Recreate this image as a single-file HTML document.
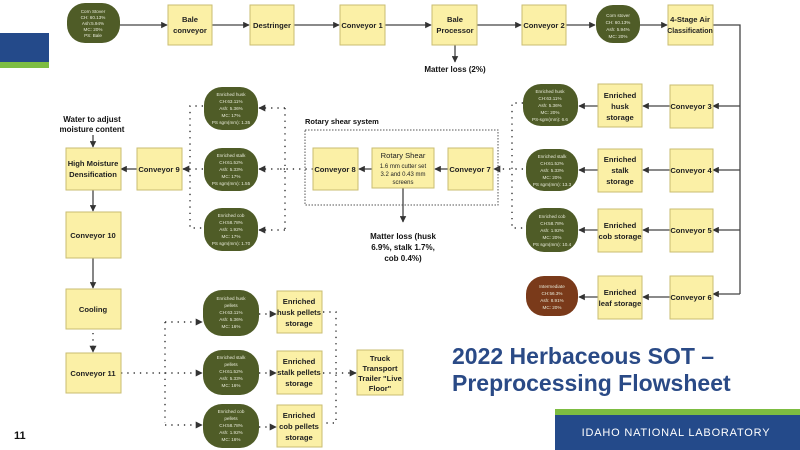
<!DOCTYPE html>
<html><head><meta charset="utf-8"><style>
html,body{margin:0;padding:0;background:#fff;}
svg{display:block;font-family:"Liberation Sans",sans-serif;}
.b{fill:#fbf0a6;stroke:#c9bd72;stroke-width:1;}
.bt{font-size:7.6px;fill:#222;text-anchor:middle;font-weight:bold;}
.o{fill:#4f5c27;}
.ot{font-size:4.6px;fill:#e8ead8;text-anchor:middle;}
.l{stroke:#444;stroke-width:1.3;fill:none;}
.d{stroke:#333;stroke-width:1.4;fill:none;stroke-dasharray:1.3 5;}
.lab{font-size:8px;font-weight:bold;fill:#111;text-anchor:middle;}
</style></head><body>
<svg width="800" height="450" viewBox="0 0 800 450">
<defs><marker id="a" viewBox="0 0 10 10" refX="9" refY="5" markerWidth="5" markerHeight="5" orient="auto"><path d="M0,0L10,5L0,10z" fill="#333"/></marker></defs>
<rect x="0" y="33" width="49" height="29" fill="#244a8a"/>
<rect x="0" y="62" width="49" height="6" fill="#7dbd42"/>
<rect x="555" y="409" width="245" height="6" fill="#7dbd42"/>
<rect x="555" y="415" width="245" height="35" fill="#244a8a"/>
<text x="676" y="436" font-size="11" fill="#fff" text-anchor="middle" letter-spacing="0.8">IDAHO NATIONAL LABORATORY</text>
<text x="14" y="439" font-size="11" font-weight="bold" fill="#111">11</text>
<text x="452" y="364" font-size="23" font-weight="bold" fill="#2a4a86">2022 Herbaceous SOT –</text>
<text x="452" y="391" font-size="23" font-weight="bold" fill="#2a4a86">Preprocessing Flowsheet</text>

<path class="l" marker-end="url(#a)" d="M120,25H167"/>
<path class="l" marker-end="url(#a)" d="M212,25H249"/>
<path class="l" marker-end="url(#a)" d="M294,25H339"/>
<path class="l" marker-end="url(#a)" d="M385,25H431"/>
<path class="l" marker-end="url(#a)" d="M477,25H521"/>
<path class="l" marker-end="url(#a)" d="M566,25H595"/>
<path class="l" marker-end="url(#a)" d="M640,25H667"/>
<path class="l" marker-end="url(#a)" d="M455,45V62"/>
<path class="l" d="M713,25H740V294"/>
<path class="l" marker-end="url(#a)" d="M740,106H713"/>
<path class="l" marker-end="url(#a)" d="M740,170H713"/>
<path class="l" marker-end="url(#a)" d="M740,230H713"/>
<path class="l" marker-end="url(#a)" d="M740,294H713"/>
<g>
<path class="l" marker-end="url(#a)" d="M670,106H643"/><path class="l" marker-end="url(#a)" d="M598,106H579"/>
<path class="l" marker-end="url(#a)" d="M670,170H643"/><path class="l" marker-end="url(#a)" d="M598,170H579"/>
<path class="l" marker-end="url(#a)" d="M670,230H643"/><path class="l" marker-end="url(#a)" d="M598,230H579"/>
<path class="l" marker-end="url(#a)" d="M670,297H643"/><path class="l" marker-end="url(#a)" d="M598,297H579"/>
</g>
<path class="d" d="M523,103H512V228H523"/>
<path class="d" marker-end="url(#a)" d="M523,169H494"/>
<rect x="305" y="130" width="193" height="75" fill="none" stroke="#555" stroke-width="1" stroke-dasharray="1.5 1.5"/>
<text x="305" y="124" font-size="7.5" font-weight="bold" fill="#111">Rotary shear system</text>
<path class="l" marker-end="url(#a)" d="M448,169H435"/>
<path class="l" marker-end="url(#a)" d="M372,169H359"/>
<path class="l" marker-end="url(#a)" d="M403,188V222"/>
<text class="lab" x="403" y="239">Matter loss (husk</text>
<text class="lab" x="403" y="250">6.9%, stalk 1.7%,</text>
<text class="lab" x="403" y="261">cob 0.4%)</text>
<text class="lab" x="455" y="72">Matter loss (2%)</text>
<path class="d" d="M313,169H280"/>
<path class="d" d="M285,108V230"/>
<path class="d" marker-end="url(#a)" d="M285,108H259"/>
<path class="d" marker-end="url(#a)" d="M285,169H259"/>
<path class="d" marker-end="url(#a)" d="M285,230H259"/>
<path class="d" d="M203,106H190V228H203"/>
<path class="d" marker-end="url(#a)" d="M203,169H183"/>
<text class="lab" x="92" y="122">Water to adjust</text>
<text class="lab" x="92" y="132">moisture content</text>
<path class="l" marker-end="url(#a)" d="M93,135V147"/>
<path class="l" marker-end="url(#a)" d="M137,169H121"/>
<path class="l" marker-end="url(#a)" d="M93,190V211"/>
<path class="l" marker-end="url(#a)" d="M93,258V288"/>
<path class="d" marker-end="url(#a)" d="M93,333V352"/>
<path class="d" d="M121,373H165"/>
<path class="d" d="M165,322V423"/>
<path class="d" marker-end="url(#a)" d="M165,322H202"/>
<path class="d" marker-end="url(#a)" d="M165,373H202"/>
<path class="d" marker-end="url(#a)" d="M165,425H202"/>
<path class="d" marker-end="url(#a)" d="M259,314H276"/>
<path class="d" marker-end="url(#a)" d="M259,373H276"/>
<path class="d" marker-end="url(#a)" d="M259,427H276"/>
<path class="d" d="M323,312H336V423H323"/>
<path class="d" marker-end="url(#a)" d="M323,373H356"/>

<g>
<rect class="b" x="168" y="5" width="44" height="40"/><text class="bt" x="190" y="22">Bale</text><text class="bt" x="190" y="33">conveyor</text>
<rect class="b" x="250" y="5" width="44" height="40"/><text class="bt" x="272" y="28">Destringer</text>
<rect class="b" x="340" y="5" width="45" height="40"/><text class="bt" x="362" y="28">Conveyor 1</text>
<rect class="b" x="432" y="5" width="45" height="40"/><text class="bt" x="455" y="22">Bale</text><text class="bt" x="455" y="33">Processor</text>
<rect class="b" x="522" y="5" width="44" height="40"/><text class="bt" x="544" y="28">Conveyor 2</text>
<rect class="b" x="668" y="5" width="45" height="40"/><text class="bt" x="690" y="22">4-Stage Air</text><text class="bt" x="690" y="33" style="font-size:7px">Classification</text>
<rect class="b" x="670" y="85" width="43" height="43"/><text class="bt" x="691" y="109">Conveyor 3</text>
<rect class="b" x="670" y="149" width="43" height="43"/><text class="bt" x="691" y="173">Conveyor 4</text>
<rect class="b" x="670" y="209" width="43" height="43"/><text class="bt" x="691" y="233">Conveyor 5</text>
<rect class="b" x="670" y="276" width="43" height="43"/><text class="bt" x="691" y="300">Conveyor 6</text>
<rect class="b" x="598" y="84" width="44" height="43"/><text class="bt" x="620" y="98">Enriched</text><text class="bt" x="620" y="109">husk</text><text class="bt" x="620" y="120">storage</text>
<rect class="b" x="598" y="149" width="44" height="43"/><text class="bt" x="620" y="162">Enriched</text><text class="bt" x="620" y="173">stalk</text><text class="bt" x="620" y="184">storage</text>
<rect class="b" x="598" y="209" width="44" height="43"/><text class="bt" x="620" y="228">Enriched</text><text class="bt" x="620" y="239">cob storage</text>
<rect class="b" x="598" y="276" width="44" height="43"/><text class="bt" x="620" y="295">Enriched</text><text class="bt" x="620" y="306">leaf storage</text>
<rect class="b" x="448" y="148" width="45" height="42"/><text class="bt" x="470" y="172">Conveyor 7</text>
<rect class="b" x="372" y="148" width="62" height="40"/><text class="bt" x="403" y="158" style="font-weight:normal">Rotary Shear</text>
<text x="403" y="168" font-size="6" text-anchor="middle" fill="#222">1.6 mm cutter set</text><text x="403" y="176" font-size="6" text-anchor="middle" fill="#222">3.2 and 0.43 mm</text><text x="403" y="184" font-size="6" text-anchor="middle" fill="#222">screens</text>
<rect class="b" x="313" y="148" width="45" height="42"/><text class="bt" x="335" y="172">Conveyor 8</text>
<rect class="b" x="137" y="148" width="45" height="42"/><text class="bt" x="159" y="172">Conveyor 9</text>
<rect class="b" x="66" y="148" width="55" height="42"/><text class="bt" x="93" y="166">High Moisture</text><text class="bt" x="93" y="177">Densification</text>
<rect class="b" x="66" y="212" width="55" height="46"/><text class="bt" x="93" y="238">Conveyor 10</text>
<rect class="b" x="66" y="289" width="55" height="40"/><text class="bt" x="93" y="312">Cooling</text>
<rect class="b" x="66" y="353" width="55" height="40"/><text class="bt" x="93" y="376">Conveyor 11</text>
<rect class="b" x="277" y="291" width="45" height="42"/><text class="bt" x="299" y="304">Enriched</text><text class="bt" x="299" y="315">husk pellets</text><text class="bt" x="299" y="326">storage</text>
<rect class="b" x="277" y="351" width="45" height="43"/><text class="bt" x="299" y="364">Enriched</text><text class="bt" x="299" y="375">stalk pellets</text><text class="bt" x="299" y="386">storage</text>
<rect class="b" x="277" y="405" width="45" height="42"/><text class="bt" x="299" y="418">Enriched</text><text class="bt" x="299" y="429">cob pellets</text><text class="bt" x="299" y="440">storage</text>
<rect class="b" x="357" y="350" width="46" height="45"/><text class="bt" x="380" y="361">Truck</text><text class="bt" x="380" y="371">Transport</text><text class="bt" x="380" y="381">Trailer "Live</text><text class="bt" x="380" y="391">Floor"</text>
</g>
<g>
<rect class="o" x="67" y="3" width="53" height="40" rx="18"/>
<text class="ot" x="93" y="13">Corn Stover</text><text class="ot" x="93" y="19">CH: 60.13%</text><text class="ot" x="93" y="25">Ash:5.94%</text><text class="ot" x="93" y="31">MC: 20%</text><text class="ot" x="93" y="37">PS: Bale</text>
<rect class="o" x="596" y="5" width="44" height="38" rx="17"/>
<text class="ot" x="618" y="17">Corn stover</text><text class="ot" x="618" y="24">CH: 60.13%</text><text class="ot" x="618" y="31">Ash: 5.94%</text><text class="ot" x="618" y="38">MC: 20%</text>
<rect class="o" x="523" y="84" width="55" height="42" rx="18"/>
<text class="ot" x="550" y="93">Enriched husk</text><text class="ot" x="550" y="100">CH:63.11%</text><text class="ot" x="550" y="107">Ash: 5.36%</text><text class="ot" x="550" y="114">MC: 20%</text><text class="ot" x="550" y="121">PS-sgm(mm): 6.6</text>
<rect class="o" x="526" y="149" width="52" height="42" rx="18"/>
<text class="ot" x="552" y="158">Enriched stalk</text><text class="ot" x="552" y="165">CH:61.52%</text><text class="ot" x="552" y="172">Ash: 5.33%</text><text class="ot" x="552" y="179">MC: 20%</text><text class="ot" x="552" y="186">PS sgm(mm): 13.3</text>
<rect class="o" x="526" y="208" width="52" height="44" rx="18"/>
<text class="ot" x="552" y="218">Enriched cob</text><text class="ot" x="552" y="225">CH:58.78%</text><text class="ot" x="552" y="232">Ash: 1.92%</text><text class="ot" x="552" y="239">MC: 20%</text><text class="ot" x="552" y="246">PS sgm(mm): 10.4</text>
<rect x="526" y="276" width="52" height="40" rx="18" fill="#7a3a1a"/>
<text class="ot" x="552" y="288">Intermediate</text><text class="ot" x="552" y="295">CH:56.3%</text><text class="ot" x="552" y="302">Ash: 8.91%</text><text class="ot" x="552" y="309">MC: 20%</text>
<rect class="o" x="204" y="87" width="54" height="43" rx="18"/>
<text class="ot" x="231" y="96">Enriched husk</text><text class="ot" x="231" y="103">CH:63.11%</text><text class="ot" x="231" y="110">Ash: 5.36%</text><text class="ot" x="231" y="117">MC: 17%</text><text class="ot" x="231" y="124">PS sgm(mm): 1.35</text>
<rect class="o" x="204" y="148" width="54" height="43" rx="18"/>
<text class="ot" x="231" y="157">Enriched stalk</text><text class="ot" x="231" y="164">CH:61.52%</text><text class="ot" x="231" y="171">Ash: 5.33%</text><text class="ot" x="231" y="178">MC: 17%</text><text class="ot" x="231" y="185">PS sgm(mm): 1.55</text>
<rect class="o" x="204" y="208" width="54" height="43" rx="18"/>
<text class="ot" x="231" y="217">Enriched cob</text><text class="ot" x="231" y="224">CH:58.78%</text><text class="ot" x="231" y="231">Ash: 1.92%</text><text class="ot" x="231" y="238">MC: 17%</text><text class="ot" x="231" y="245">PS sgm(mm): 1.70</text>
<rect class="o" x="203" y="290" width="56" height="46" rx="19"/>
<text class="ot" x="231" y="300">Enriched husk</text><text class="ot" x="231" y="307">pellets</text><text class="ot" x="231" y="314">CH:63.11%</text><text class="ot" x="231" y="321">Ash: 5.36%</text><text class="ot" x="231" y="328">MC: 16%</text>
<rect class="o" x="203" y="350" width="56" height="45" rx="19"/>
<text class="ot" x="231" y="359">Enriched stalk</text><text class="ot" x="231" y="366">pellets</text><text class="ot" x="231" y="373">CH:61.52%</text><text class="ot" x="231" y="380">Ash: 5.33%</text><text class="ot" x="231" y="387">MC: 16%</text>
<rect class="o" x="203" y="404" width="56" height="44" rx="19"/>
<text class="ot" x="231" y="413">Enriched cob</text><text class="ot" x="231" y="420">pellets</text><text class="ot" x="231" y="427">CH:58.78%</text><text class="ot" x="231" y="434">Ash: 1.92%</text><text class="ot" x="231" y="441">MC: 16%</text>
</g>
</svg>
</body></html>
